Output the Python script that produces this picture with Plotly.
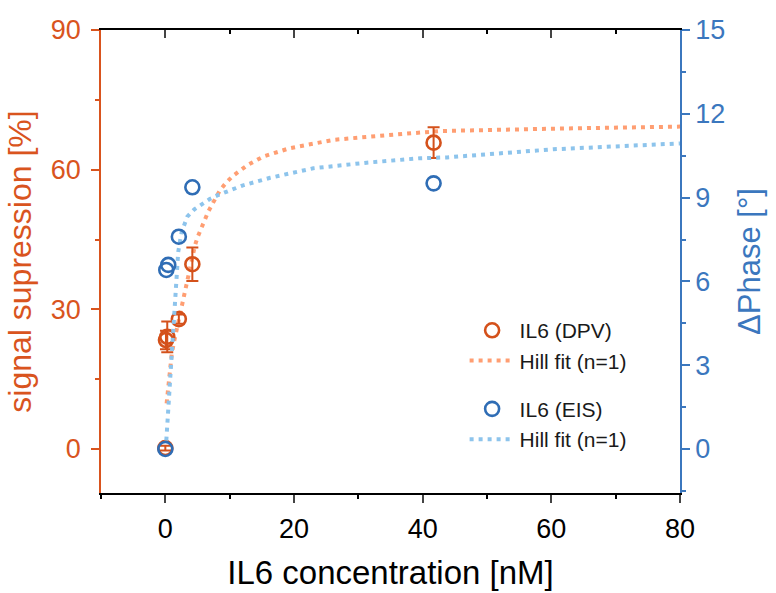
import plotly.graph_objects as go

# ---------------- data ----------------
conc_dpv = [0.0, 0.1, 0.3, 2.1, 4.2, 41.7]
dpv = [0.2, 23.4, 24.1, 27.9, 39.7, 65.8]
dpv_err = [0.5, 2.0, 3.3, 1.0, 3.6, 3.3]

conc_eis = [0.0, 0.15, 0.45, 2.1, 4.2, 41.7]
eis = [0.0, 6.41, 6.59, 7.6, 9.37, 9.51]

fit_x_dpv = [0.2, 0.6, 1.0, 1.35, 1.93, 2.8, 3.17, 4.62, 5.04, 5.55, 6.06, 6.68,
             7.3, 8.5, 9.39, 10.45, 12.8, 15.2, 19.3, 26.1, 34.4, 42.7, 60, 80]
fit_y_dpv = [9.8, 15.5, 20.5, 23.0, 26.8, 32.7, 34.5, 43.8, 45.6, 47.4, 49.2, 51.0,
             52.6, 55.6, 57.1, 58.6, 61.0, 62.8, 64.6, 66.4, 67.4, 68.3, 68.8, 69.25]

fit_x_eis = [0.15, 0.6, 1.1, 1.6, 2.0, 2.3, 2.55, 3.42, 4.51, 5.66, 6.84, 8.08,
             9.39, 11.97, 16.3, 23, 31.3, 39.6, 43.8, 60.3, 80]
fit_y_eis = [0.3, 1.9, 3.7, 5.5, 7.05, 7.46, 7.78, 8.32, 8.58, 8.76, 8.94, 9.08,
             9.21, 9.43, 9.71, 10.05, 10.25, 10.41, 10.44, 10.73, 10.94]

x_ticks = [0, 20, 40, 60, 80]
left_ticks = [0, 30, 60, 90]
right_ticks = [0, 3, 6, 9, 12, 15]

# ---------------- styling ----------------
ORANGE = "#D4511B"
ORANGE_FIT = "#FF9E72"
BLUE = "#2F6DB5"
BLUE_FIT = "#8DC4EC"
LAXIS = "#D9541E"
RAXIS = "#3B77BE"
FONT = "Liberation Sans, Arial, sans-serif"

fig = go.Figure()

fig.add_trace(go.Scatter(
    x=fit_x_dpv, y=fit_y_dpv, mode="lines", name="Hill fit (n=1)",
    line=dict(color=ORANGE_FIT, width=4, dash="4px,5px"),
    legendgroup="dpv", legendrank=2, yaxis="y"))
fig.add_trace(go.Scatter(
    x=conc_dpv, y=dpv, mode="markers", name="IL6 (DPV)",
    marker=dict(symbol="circle-open", size=14, color=ORANGE, line=dict(width=2.6, color=ORANGE)),
    error_y=dict(type="data", array=dpv_err, color=ORANGE, thickness=2, width=6),
    legendgroup="dpv", legendrank=1, yaxis="y"))
fig.add_trace(go.Scatter(
    x=fit_x_eis, y=fit_y_eis, mode="lines", name="Hill fit (n=1)",
    line=dict(color=BLUE_FIT, width=4, dash="4px,5px"),
    legendgroup="eis", legendrank=4, yaxis="y2"))
fig.add_trace(go.Scatter(
    x=conc_eis, y=eis, mode="markers", name="IL6 (EIS)",
    marker=dict(symbol="circle-open", size=14, color=BLUE, line=dict(width=2.6, color=BLUE)),
    legendgroup="eis", legendrank=3, yaxis="y2"))
# empty trace to activate the top mirror axis
fig.add_trace(go.Scatter(x=[], y=[], xaxis="x2", yaxis="y", showlegend=False, hoverinfo="skip"))

fig.update_layout(
    width=776, height=593,
    margin=dict(l=101, r=96, t=30, b=100),
    paper_bgcolor="white", plot_bgcolor="white",
    font=dict(family=FONT, size=25, color="black"),
    showlegend=True,
    legend=dict(x=0.628, y=0.395, xanchor="left", yanchor="top",
                bgcolor="rgba(0,0,0,0)", font=dict(size=21, color="#1a1a1a"),
                traceorder="grouped", tracegroupgap=18, itemwidth=45),
    xaxis=dict(range=[-10, 80], tickvals=x_ticks, ticks="outside", ticklen=8, tickwidth=1.5,
               showline=True, linecolor="black", linewidth=1.5, showgrid=False, zeroline=False,
               automargin=False,
               tickfont=dict(size=27, color="black"), ticklabelstandoff=3,
               minor=dict(dtick=10, tick0=0, ticks="outside", ticklen=4, tickwidth=1.5, tickcolor="black"),
               title=dict(text="IL6 concentration [nM]", font=dict(size=33, color="black"), standoff=18)),
    xaxis2=dict(range=[-10, 80], overlaying="x", side="top", anchor="y", tickvals=x_ticks,
                ticks="inside", ticklen=8, tickwidth=1.5, showticklabels=False, automargin=False,
                showline=True, linecolor="black", linewidth=1.5, showgrid=False, zeroline=False,
                minor=dict(dtick=10, tick0=0, ticks="inside", ticklen=4, tickwidth=1.5, tickcolor="black")),
    yaxis=dict(range=[-9.45, 90], tickvals=left_ticks, ticks="outside", ticklen=8, tickwidth=1.5,
               tickcolor=LAXIS, showline=True, linecolor=LAXIS, linewidth=1.5, automargin=False,
               showgrid=False, zeroline=False, tickfont=dict(size=27, color=LAXIS),
               ticklabelstandoff=5,
               minor=dict(dtick=15, tick0=0, ticks="outside", ticklen=4, tickwidth=1.5, tickcolor=LAXIS),
               title=dict(text="signal supression [%]", font=dict(size=32, color=LAXIS), standoff=10)),
    yaxis2=dict(range=[-1.575, 15], overlaying="y", side="right", anchor="x", tickvals=right_ticks,
                ticks="outside", ticklen=8, tickwidth=1.5, tickcolor=RAXIS, automargin=False,
                showline=True, linecolor=RAXIS, linewidth=1.5, showgrid=False, zeroline=False,
                tickfont=dict(size=27, color=RAXIS),
                minor=dict(dtick=1.5, tick0=0, ticks="outside", ticklen=4, tickwidth=1.5, tickcolor=RAXIS),
                title=dict(text="ΔPhase [°]", font=dict(size=31, color=RAXIS), standoff=14)),
)

fig.write_html("out.html")
